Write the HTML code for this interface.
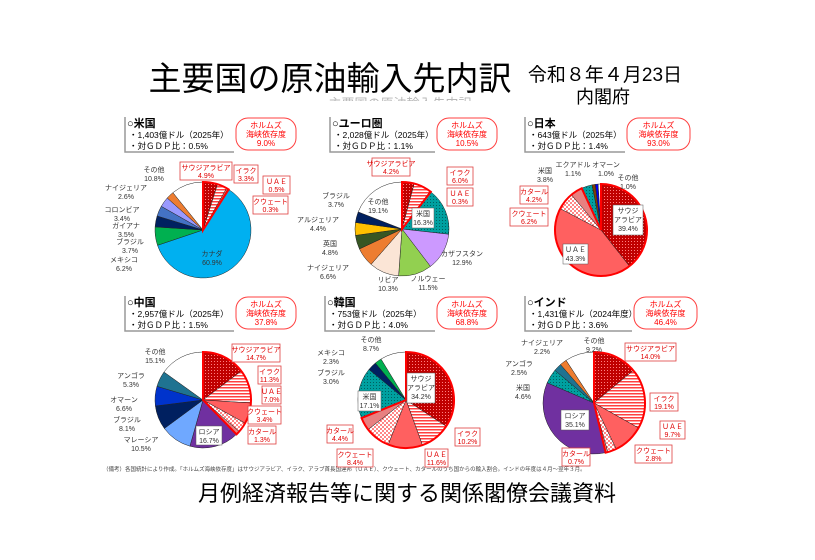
<!DOCTYPE html>
<html><head><meta charset="utf-8"><style>
html,body{margin:0;padding:0;background:#fff;}
svg{display:block;font-family:"Liberation Sans","Noto Sans CJK JP",sans-serif;}
.l{font-size:7px;fill:#333;text-anchor:middle}
.r{font-size:7px;fill:#e00000;text-anchor:middle}
.h1{font-size:11px;font-weight:bold;fill:#000}
.h2{font-size:8.5px;fill:#000}
.hz{font-size:8px;fill:#ff0000;text-anchor:middle}
</style></head><body>
<svg id="s" width="815" height="560" viewBox="0 0 815 560">
<defs>
<pattern id="sa" width="3" height="3" patternUnits="userSpaceOnUse"><rect width="3" height="3" fill="#c00000"/><rect x="1" y="1" width="1" height="1" fill="#ff8080"/></pattern>
<pattern id="iq" width="4" height="3" patternUnits="userSpaceOnUse"><rect width="4" height="3" fill="#fff"/><rect width="4" height="1.5" fill="#ff4040"/></pattern>
<pattern id="ku" width="4" height="4" patternUnits="userSpaceOnUse"><rect width="4" height="4" fill="#fff"/><circle cx="1" cy="1" r="0.9" fill="#ff3030"/><circle cx="3" cy="3" r="0.9" fill="#ff3030"/></pattern>
<pattern id="us" width="3" height="3" patternUnits="userSpaceOnUse"><rect width="3" height="3" fill="#00a0a0"/><rect x="1" y="1" width="1" height="1" fill="#006060"/></pattern>
</defs>
<text x="400" y="108" font-size="13" text-anchor="middle" fill="#999" opacity="0.7">主要国の原油輸入先内訳</text>
<rect x="300" y="101" width="200" height="12" fill="#fff"/>
<text x="330" y="90" font-size="33" text-anchor="middle" fill="#000">主要国の原油輸入先内訳</text>
<text x="605" y="81" font-size="19" text-anchor="middle" fill="#000">令和８年４月23日</text>
<text x="603" y="103" font-size="18" text-anchor="middle" fill="#000">内閣府</text>
<text x="407" y="501" font-size="22" text-anchor="middle" fill="#000">月例経済報告等に関する関係閣僚会議資料</text>
<text x="103" y="471" font-size="5.5" fill="#444">（備考）各国統計により作成。「ホルムズ海峡依存度」はサウジアラビア、イラク、アラブ首長国連邦（ＵＡＥ）、クウェート、カタールのうち国からの輸入割合。インドの年度は４月～翌年３月。</text>
<g id="g"></g>
</svg>
<script>
const NS="http://www.w3.org/2000/svg",G=document.getElementById('g');
function el(t,a,txt){const e=document.createElementNS(NS,t);for(const k in a)e.setAttribute(k,a[k]);if(txt!==undefined)e.textContent=txt;G.appendChild(e);return e;}
const C={sa:'url(#sa)',iq:'url(#iq)',uae:'#ff6060',ku:'url(#ku)',qa:'#e88080',us:'url(#us)',wh:'#fff',ca:'#00b0f0',gr:'#00b050',nv:'#002060',bl:'#4472c4',lv:'#9999ff',or:'#ed7d31',kz:'#cc99ff',no:'#92d050',li:'#fbe5d6',uk:'#375623',ye:'#ffc000',br:'#7f3f00',om:'#0033cc',ru:'#7030a0',my:'#6fa8ff',an:'#1f7391',ob:'#0000ee'};
function pie(cx,cy,r,sl,me){let a=0;const tot=sl.reduce((s,x)=>s+x[0],0);let meEnd=0;
 sl.forEach((x,i)=>{const a0=a,a1=a+x[0]/tot*2*Math.PI;a=a1;if(i<me)meEnd=a1;
  const p=(t)=>[cx+r*Math.sin(t),cy-r*Math.cos(t)];const [x0,y0]=p(a0),[x1,y1]=p(a1);
  el('path',{d:`M${cx},${cy}L${x0},${y0}A${r},${r} 0 ${a1-a0>Math.PI?1:0} 1 ${x1},${y1}Z`,fill:C[x[1]],stroke:'#222','stroke-width':0.5});});
 if(me){const p=(t)=>[cx+r*Math.sin(t),cy-r*Math.cos(t)];const [x1,y1]=p(meEnd);
  el('path',{d:`M${cx},${cy}L${cx},${cy-r}A${r},${r} 0 ${meEnd>Math.PI?1:0} 1 ${x1},${y1}Z`,fill:'none',stroke:'#ff0000','stroke-width':2});}}
function hdr(x,y,name,l1,l2,px,pw,hz){
 el('text',{x:x,y:y+9,class:'h1'},'○'+name);
 el('text',{x:x+2,y:y+20,class:'h2'},'・'+l1);
 el('text',{x:x+2,y:y+31,class:'h2'},'・'+l2);
 el('path',{d:`M${x-2},${y-1}V${y+34}H${px-2}`,fill:'none',stroke:'#999','stroke-width':1.5});
 el('rect',{x:px,y:y,width:pw,height:32,rx:12,fill:'#fff',stroke:'#ff4040','stroke-width':1});
 el('text',{x:px+pw/2,y:y+10,class:'hz'},'ホルムズ');el('text',{x:px+pw/2,y:y+19,class:'hz'},'海峡依存度');el('text',{x:px+pw/2,y:y+28,class:'hz'},hz);}
function lab(x,y,a,b){el('text',{x:x,y:y,class:'l'},a);el('text',{x:x,y:y+9,class:'l'},b);}
function box(x,y,w,a,b){el('rect',{x:x,y:y,width:w,height:18,fill:'#fff',stroke:'#e04040','stroke-width':0.8});el('text',{x:x+w/2,y:y+8,class:'r'},a);el('text',{x:x+w/2,y:y+16,class:'r'},b);}
function ibox(x,y,w,h,lines){el('rect',{x:x,y:y,width:w,height:h,fill:'#fff',stroke:'#555','stroke-width':0.5});lines.forEach((t,i)=>el('text',{x:x+w/2,y:y+8+i*9,class:'l'},t));}
// US
hdr(127,118,'米国','1,403億ドル（2025年）','対ＧＤＰ比：0.5%',236,60,'9.0%');
pie(203,230,48,[[4.9,'sa'],[3.3,'iq'],[0.5,'uae'],[0.3,'ku'],[60.9,'ca'],[6.2,'gr'],[3.7,'nv'],[3.5,'bl'],[3.4,'lv'],[2.6,'or'],[10.8,'wh']],4);
box(180,162,52,'サウジアラビア','4.9%');box(234,165,24,'イラク','3.3%');box(263,176,27,'ＵＡＥ','0.5%');box(253,196,35,'クウェート','0.3%');
lab(154,172,'その他','10.8%');lab(126,190,'ナイジェリア','2.6%');lab(122,212,'コロンビア','3.4%');lab(126,228,'ガイアナ','3.5%');lab(130,244,'ブラジル','3.7%');lab(124,262,'メキシコ','6.2%');lab(212,256,'カナダ','60.9%');
// Euro
hdr(332,118,'ユーロ圏','2,028億ドル（2025年）','対ＧＤＰ比：1.1%',437,60,'10.5%');
pie(402,229,47,[[4.2,'sa'],[6.0,'iq'],[0.3,'uae'],[16.3,'us'],[12.9,'kz'],[11.5,'no'],[10.3,'li'],[6.6,'or'],[4.8,'uk'],[4.4,'ye'],[3.7,'nv'],[19.1,'wh']],3);
box(372,158,38,'サウジアラビア','4.2%');box(447,167,26,'イラク','6.0%');box(447,188,26,'ＵＡＥ','0.3%');
ibox(412,208,22,20,['米国','16.3%']);lab(378,204,'その他','19.1%');lab(462,256,'カザフスタン','12.9%');lab(428,281,'ノルウェー','11.5%');lab(388,282,'リビア','10.3%');lab(328,270,'ナイジェリア','6.6%');lab(330,246,'英国','4.8%');lab(318,222,'アルジェリア','4.4%');lab(336,198,'ブラジル','3.7%');
// Japan
hdr(527,118,'日本','643億ドル（2025年）','対ＧＤＰ比：1.4%',627,63,'93.0%');
pie(601,230,46,[[39.4,'sa'],[43.3,'uae'],[6.2,'ku'],[4.2,'qa'],[3.8,'us'],[1.1,'br'],[1.0,'ob'],[1.0,'wh']],4);
ibox(613,205,30,30,['サウジ','アラビア','39.4%']);ibox(563,244,25,20,['ＵＡＥ','43.3%']);
box(520,186,28,'カタール','4.2%');box(510,208,38,'クウェート','6.2%');lab(545,173,'米国','3.8%');lab(573,167,'エクアドル','1.1%');lab(606,167,'オマーン','1.0%');lab(628,180,'その他','1.0%');
// China
hdr(127,297,'中国','2,957億ドル（2025年）','対ＧＤＰ比：1.5%',236,60,'37.8%');
pie(203,400,48,[[14.7,'sa'],[11.3,'iq'],[7.0,'uae'],[3.4,'ku'],[1.3,'qa'],[16.7,'ru'],[10.5,'my'],[8.1,'nv'],[6.6,'om'],[5.3,'an'],[15.1,'wh']],5);
box(232,344,48,'サウジアラビア','14.7%');box(258,366,23,'イラク','11.3%');box(262,386,19,'ＵＡＥ','7.0%');box(248,406,33,'クウェート','3.4%');box(248,426,28,'カタール','1.3%');
ibox(196,426,26,19,['ロシア','16.7%']);lab(155,354,'その他','15.1%');lab(131,378,'アンゴラ','5.3%');lab(124,402,'オマーン','6.6%');lab(127,422,'ブラジル','8.1%');lab(141,442,'マレーシア','10.5%');
// Korea
hdr(327,297,'韓国','753億ドル（2025年）','対ＧＤＰ比：4.0%',437,60,'68.8%');
pie(406,400,48,[[34.2,'sa'],[10.2,'iq'],[11.6,'uae'],[8.4,'ku'],[4.4,'qa'],[17.1,'us'],[3.0,'nv'],[2.3,'gr'],[8.7,'wh']],5);
ibox(407,373,28,30,['サウジ','アラビア','34.2%']);ibox(358,391,23,20,['米国','17.1%']);
box(455,428,25,'イラク','10.2%');box(425,449,23,'ＵＡＥ','11.6%');box(337,449,36,'クウェート','8.4%');box(327,425,26,'カタール','4.4%');
lab(371,342,'その他','8.7%');lab(331,355,'メキシコ','2.3%');lab(331,375,'ブラジル','3.0%');
// India
hdr(527,297,'インド','1,431億ドル（2024年度）','対ＧＤＰ比：3.6%',634,63,'46.4%');
pie(594,403,51,[[14.0,'sa'],[19.1,'iq'],[9.7,'uae'],[2.8,'ku'],[0.7,'qa'],[35.1,'ru'],[4.6,'us'],[2.5,'an'],[2.2,'or'],[9.2,'wh']],5);
box(625,343,51,'サウジアラビア','14.0%');box(650,393,28,'イラク','19.1%');box(660,421,25,'ＵＡＥ','9.7%');box(635,445,37,'クウェート','2.8%');box(562,448,28,'カタール','0.7%');
ibox(561,410,28,20,['ロシア','35.1%']);lab(594,343,'その他','9.2%');lab(542,345,'ナイジェリア','2.2%');lab(519,366,'アンゴラ','2.5%');lab(523,390,'米国','4.6%');
</script>
</body></html>
